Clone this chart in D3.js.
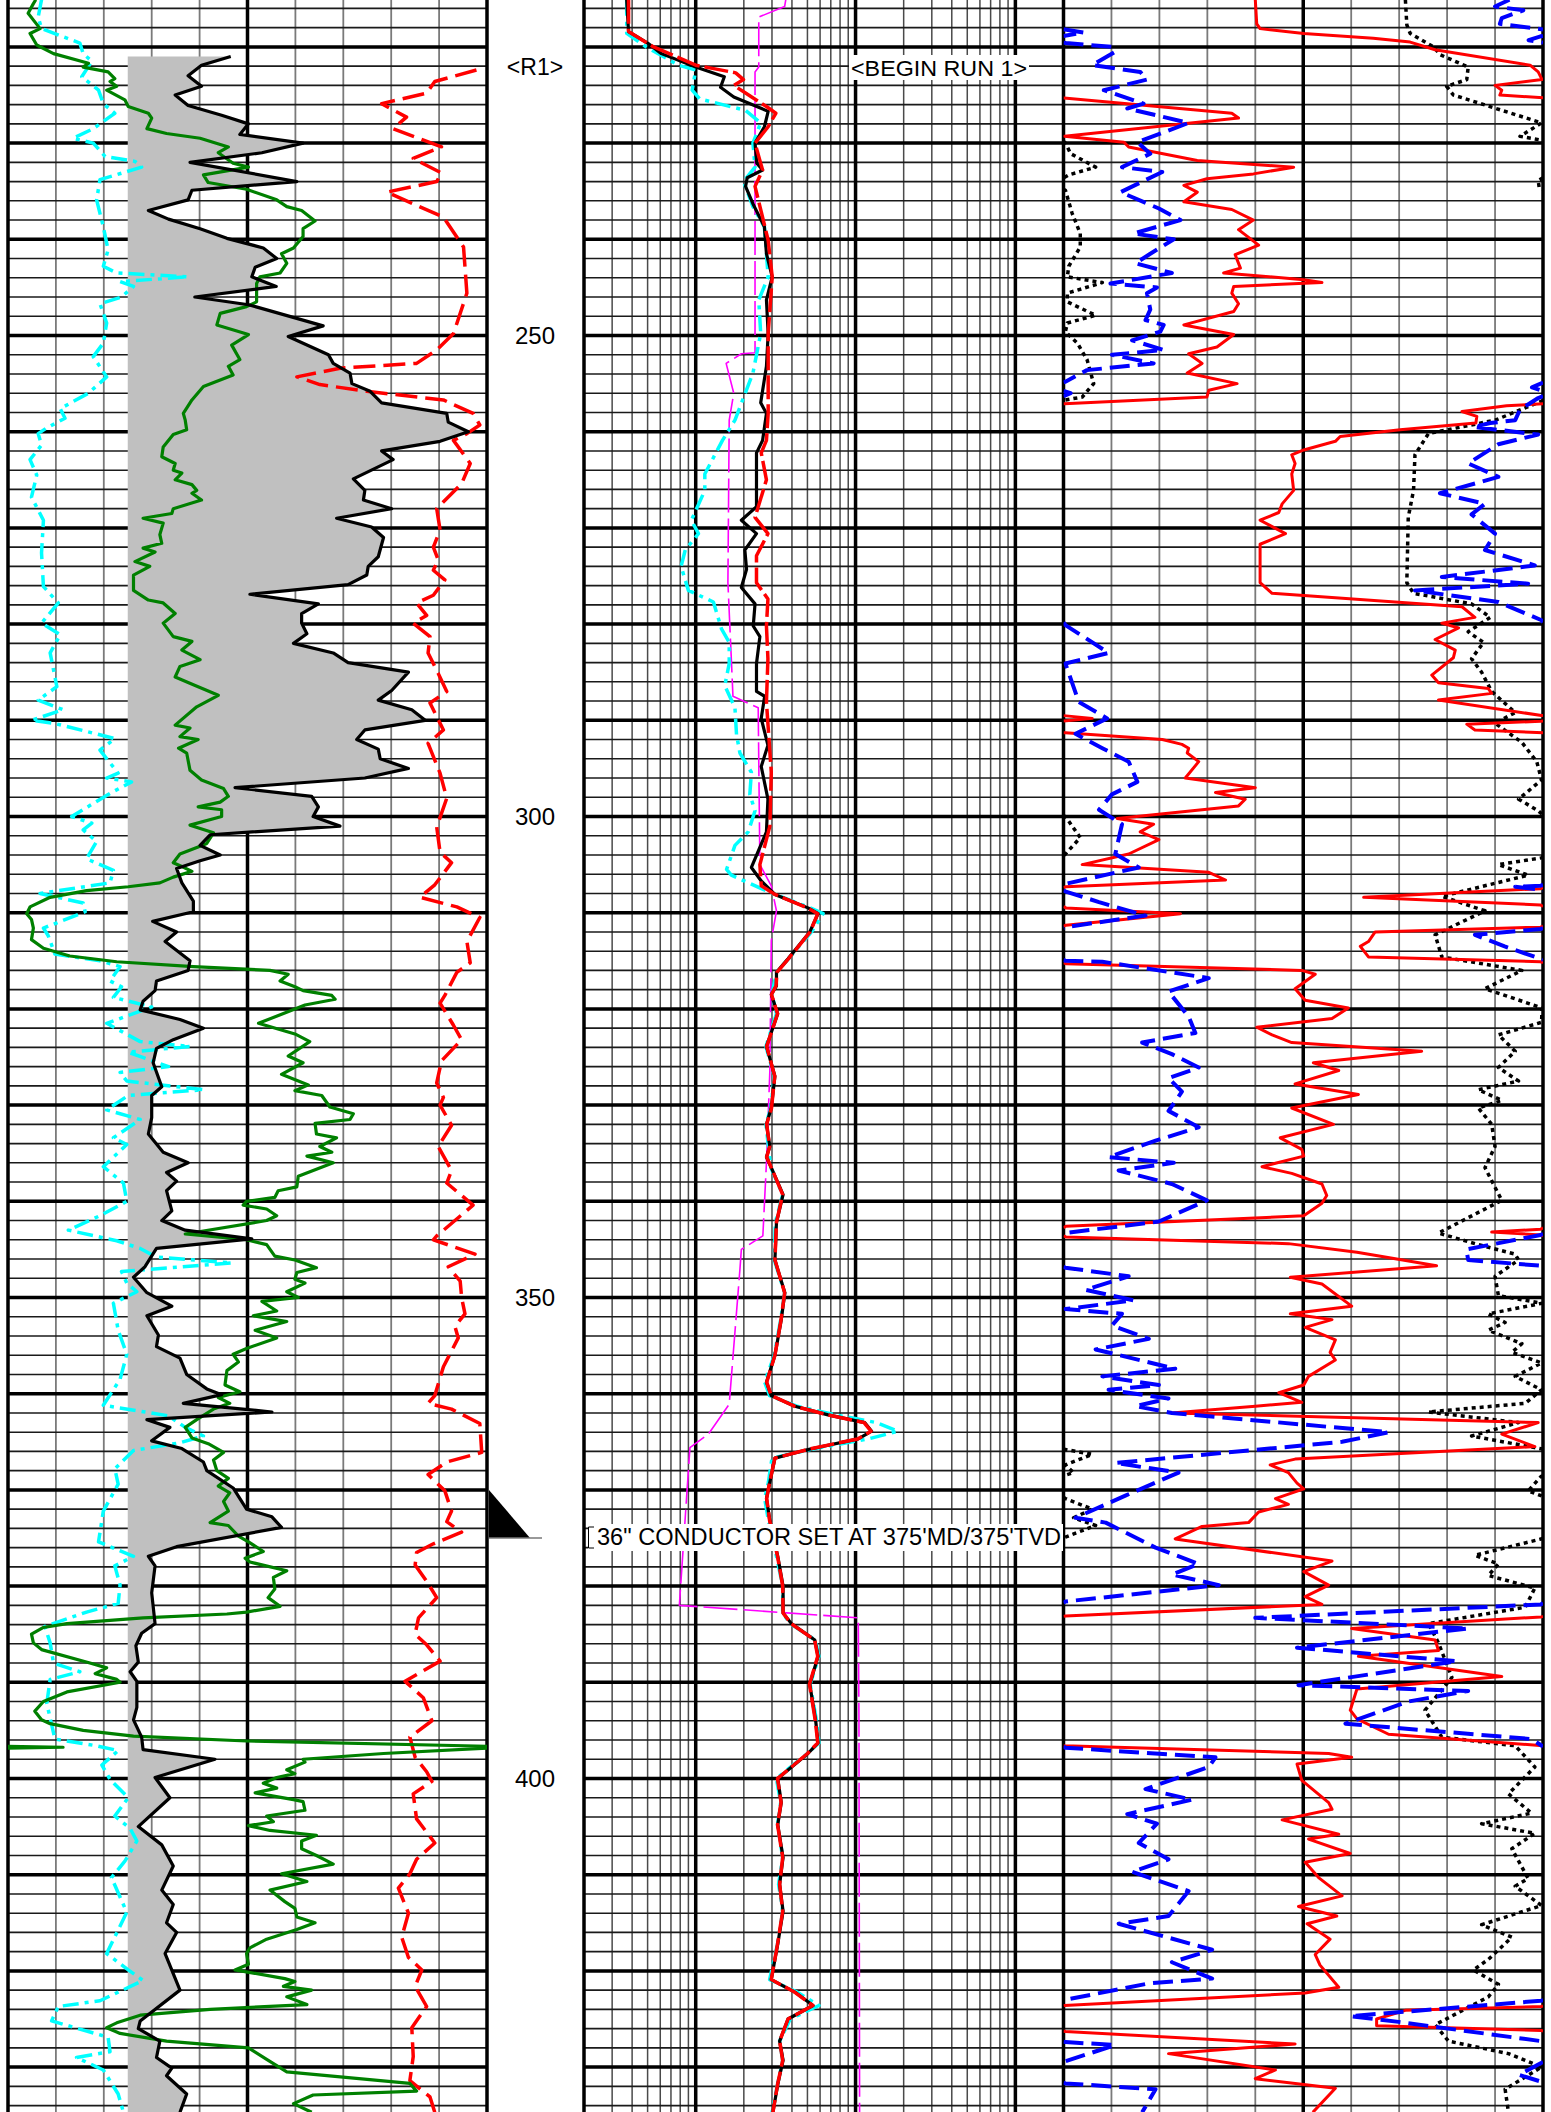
<!DOCTYPE html>
<html>
<head>
<meta charset="utf-8">
<script src="https://cdn.jsdelivr.net/npm/d3@7"></script>
<style>
  html, body { margin: 0; padding: 0; background: #fff; }
  svg { display: block; font-family: "Liberation Sans", Arial, sans-serif; }
</style>
</head>
<body>
<svg id="log" width="1551" height="2112"></svg>
<script>
// ---- depth labels / annotations ----
var depthLabels = [250, 300, 350, 400];

// ---- track 1 (linear 0-100) : [depth, value] ----
var t1Gamma = [[221.0,46.5],[221.9,40.4],[223.0,37.6],[224.1,40.4],[225.0,34.9],[226.1,37.6],[227.1,44.6],[228.0,50.2],[229.1,48.4],[230.0,61.6],[231.0,53.0],[232.0,38.0],[234.0,60.3],[234.9,38.4],[235.9,37.6],[237.0,29.3],[237.9,33.5],[238.9,40.1],[239.9,45.7],[240.9,53.3],[242.0,56.1],[242.9,51.6],[243.9,50.9],[244.9,56.0],[246.0,39.0],[246.8,50.2],[249.0,65.8],[250.1,58.5],[252.0,66.9],[252.9,67.9],[253.9,71.4],[255.0,71.8],[255.8,75.6],[257.0,78.0],[258.1,91.6],[259.0,91.9],[260.0,96.1],[261.0,90.2],[262.0,78.0],[262.9,80.4],[264.9,72.1],[266.1,74.5],[267.1,74.2],[268.0,80.1],[269.0,68.6],[269.9,75.9],[271.0,78.4],[273.0,77.3],[274.0,75.2],[274.9,74.9],[275.9,71.0],[276.9,50.5],[277.9,64.8],[278.9,61.3],[279.9,61.3],[281.0,62.4],[282.0,59.6],[283.0,67.9],[284.0,71.0],[285.0,83.6],[286.9,80.1],[287.9,77.3],[288.9,84.3],[290.0,87.1],[291.0,74.5],[292.0,72.8],[293.0,77.3],[294.0,77.7],[295.0,83.6],[296.0,74.5],[297.0,47.4],[297.9,63.4],[299.0,64.8],[300.0,63.7],[301.0,69.3],[301.9,42.2],[303.0,40.1],[304.0,44.3],[304.6,40.1],[305.4,35.2],[306.9,36.3],[308.8,38.7],[309.9,38.7],[310.9,30.2],[312.0,35.2],[313.0,32.8],[315.0,38.0],[316.0,37.6],[317.1,31.0],[318.1,30.7],[319.2,28.2],[320.1,27.6],[321.1,35.9],[322.0,40.8],[323.2,34.5],[324.1,31.0],[325.6,30.3],[328.1,32.1],[329.0,30.0],[331.3,30.0],[333.0,29.3],[334.9,32.4],[336.0,37.6],[337.0,33.1],[337.9,35.2],[338.9,33.1],[341.0,34.2],[342.0,32.1],[343.0,37.0],[343.9,50.9],[344.9,31.0],[346.8,28.6],[347.9,26.2],[349.5,29.0],[350.9,34.2],[351.9,29.0],[353.9,31.4],[355.1,31.0],[356.3,35.9],[358.0,37.3],[359.5,41.5],[360.1,44.6],[361.0,36.6],[361.9,55.1],[362.7,29.0],[363.5,33.8],[364.9,30.0],[365.7,36.3],[367.1,40.8],[368.0,41.5],[369.8,47.0],[372.0,49.8],[372.8,55.1],[373.9,57.1],[375.9,35.2],[376.9,29.3],[377.9,30.7],[380.7,30.0],[383.9,30.7],[384.9,27.9],[386.2,26.7],[387.9,27.2],[388.9,25.5],[389.9,26.9],[392.6,26.9],[393.9,26.2],[395.7,27.9],[397.0,28.2],[398.0,43.2],[399.9,30.7],[402.0,33.8],[405.0,27.2],[406.9,32.1],[409.1,34.5],[411.6,32.1],[413.1,34.5],[415.0,33.1],[416.0,35.2],[418.2,32.8],[422.0,35.9],[425.2,27.6],[426.0,27.2],[427.3,31.7],[429.0,31.0],[430.1,34.2],[430.9,33.1],[432.8,37.3],[434.7,35.9]];

var t1Green = [[215.1,5.8],[215.5,5.3],[216.5,4.2],[217.4,5.6],[218.1,6.7],[218.6,4.6],[219.8,6.0],[220.7,9.5],[221.7,16.8],[222.1,15.7],[222.6,20.9],[223.3,22.3],[223.6,21.3],[224.1,22.7],[224.5,20.6],[225.5,24.4],[226.2,25.1],[226.9,29.3],[227.4,30.0],[228.5,29.0],[229.0,33.1],[229.5,40.1],[230.4,46.0],[231.0,43.9],[232.1,47.0],[232.5,50.2],[233.3,40.8],[234.1,41.8],[234.8,49.8],[235.9,56.1],[236.6,58.2],[237.0,61.3],[238.1,64.1],[238.9,61.6],[239.7,61.6],[240.9,59.6],[241.5,57.1],[242.5,58.2],[243.5,56.8],[243.9,52.6],[244.6,51.9],[246.5,51.9],[247.0,49.8],[247.7,44.3],[248.9,43.6],[249.9,50.2],[251.0,46.7],[252.5,48.4],[253.2,46.0],[254.1,47.0],[255.3,40.8],[256.7,38.4],[258.1,36.6],[258.8,37.0],[259.8,37.3],[260.3,34.5],[261.6,32.4],[262.6,32.1],[263.3,34.9],[264.0,34.5],[264.3,36.3],[265.0,34.9],[265.5,38.4],[266.1,39.4],[266.4,38.4],[267.1,40.4],[268.0,34.5],[268.5,34.2],[269.0,28.2],[269.5,32.4],[270.7,31.7],[271.6,32.1],[272.1,28.2],[272.5,30.7],[273.5,26.5],[274.0,29.6],[274.9,26.2],[276.5,26.2],[277.5,29.3],[277.8,32.4],[278.9,34.9],[279.9,32.4],[281.3,34.5],[281.8,38.4],[282.7,36.3],[283.7,40.1],[284.4,35.9],[285.5,34.9],[286.3,38.7],[287.4,43.9],[288.6,39.4],[290.5,34.9],[290.8,38.0],[291.7,35.9],[292.0,39.7],[292.9,35.6],[293.4,37.3],[295.2,38.0],[296.2,40.4],[297.1,45.0],[297.9,46.0],[298.5,44.3],[299.0,39.7],[299.3,44.6],[300.0,44.6],[300.9,38.0],[301.7,42.9],[302.8,41.5],[303.1,40.1],[303.9,35.9],[304.8,34.5],[305.2,36.3],[305.7,38.4],[306.3,34.5],[306.9,31.7],[307.3,25.1],[307.7,16.4],[308.4,8.8],[309.4,4.6],[310.1,3.9],[310.7,4.9],[311.6,5.3],[312.8,4.9],[313.7,7.4],[314.5,12.9],[315.1,22.7],[315.6,38.7],[316.0,54.7],[316.4,58.5],[317.1,56.8],[317.7,59.9],[318.1,61.6],[318.6,67.6],[319.0,68.3],[319.6,62.0],[321.5,52.3],[322.6,59.9],[323.4,63.0],[324.9,58.5],[325.6,61.6],[326.8,57.1],[327.9,62.7],[328.5,59.9],[329.0,65.5],[330.2,67.2],[330.9,72.1],[331.5,71.4],[331.9,64.1],[333.0,64.4],[333.4,68.6],[334.3,65.1],[334.9,67.6],[335.3,62.4],[336.0,67.9],[337.4,60.6],[338.5,60.3],[338.9,56.4],[339.6,55.7],[340.0,49.8],[340.4,49.1],[340.8,54.0],[341.5,56.1],[342.0,54.0],[343.4,37.0],[344.0,49.8],[344.5,54.0],[345.7,55.7],[346.1,59.9],[346.9,64.4],[347.4,60.3],[348.1,59.9],[348.5,62.0],[349.4,58.2],[350.0,60.6],[350.4,53.0],[351.4,56.1],[351.9,51.2],[352.5,58.2],[353.4,51.6],[354.2,56.1],[355.3,49.8],[355.9,47.0],[356.7,48.1],[357.6,45.7],[359.1,45.3],[359.8,48.4],[360.4,43.9],[361.0,46.3],[361.6,42.9],[362.7,39.4],[363.5,37.0],[364.6,38.4],[365.2,41.8],[366.1,45.0],[366.9,42.9],[368.0,43.6],[368.8,46.0],[369.6,43.9],[370.3,46.3],[371.2,45.0],[372.2,46.0],[373.4,42.2],[373.7,46.0],[374.8,48.1],[375.4,50.2],[376.4,53.3],[377.1,49.5],[377.5,50.5],[378.4,58.2],[379.1,55.4],[380.3,55.7],[381.2,54.3],[382.1,56.8],[382.7,49.8],[382.9,45.7],[383.3,28.2],[383.9,12.3],[384.3,7.4],[385.0,4.9],[385.9,5.3],[386.6,7.0],[388.0,17.1],[388.5,20.6],[389.1,18.2],[389.7,22.7],[390.0,23.4],[391.0,12.3],[392.0,7.4],[393.0,5.6],[393.9,7.0],[394.3,8.8],[395.0,15.7],[395.6,26.2],[396.1,49.8],[396.65,100.0],[396.75,111.5],[396.85,100.0],[397.4,78.4],[398.0,61.6],[398.3,62.0],[399.1,58.2],[399.5,59.9],[399.9,56.1],[400.5,53.3],[401.0,56.1],[401.5,51.6],[402.2,59.6],[402.4,61.6],[403.3,62.0],[403.9,54.0],[404.5,55.4],[404.9,50.2],[405.4,54.7],[405.9,64.4],[406.5,61.3],[407.3,61.3],[408.0,64.4],[408.9,67.9],[409.9,57.1],[410.7,62.4],[411.6,54.7],[412.8,57.8],[413.5,59.9],[414.4,60.3],[415.0,64.1],[415.7,60.3],[416.7,54.0],[417.6,50.5],[418.2,49.8],[419.3,50.2],[419.9,47.4],[420.8,57.8],[421.1,59.9],[421.6,57.5],[422.0,63.4],[422.7,58.2],[423.5,62.4],[424.0,42.2],[424.6,27.6],[425.4,22.7],[425.9,20.6],[426.5,23.4],[427.3,33.1],[428.0,50.2],[429.2,54.0],[430.5,58.2],[431.7,83.9],[432.5,85.3],[432.9,63.7],[433.8,59.6],[434.7,63.4]];

var t1Cyan = [[215.1,7.0],[216.9,6.3],[218.1,7.0],[219.6,15.0],[220.7,15.7],[221.5,17.5],[223.1,15.4],[224.5,18.9],[225.9,19.9],[226.9,22.3],[228.5,17.8],[229.5,13.6],[230.0,17.8],[231.4,20.3],[231.9,26.5],[232.5,27.9],[233.8,19.2],[235.9,18.5],[238.7,19.9],[241.1,20.9],[242.8,19.9],[243.5,22.7],[243.9,37.6],[244.4,23.4],[244.9,26.2],[246.0,23.7],[246.7,19.2],[248.7,20.6],[250.8,19.9],[252.2,17.8],[254.3,20.6],[256.0,16.8],[257.6,10.9],[258.6,11.9],[259.6,8.1],[260.2,6.3],[261.4,7.0],[262.9,4.6],[264.5,6.0],[266.8,4.9],[269.2,7.4],[272.6,7.0],[276.1,7.4],[277.8,10.5],[279.9,7.0],[281.1,10.9],[283.0,8.8],[286.5,10.2],[287.9,6.3],[288.9,11.5],[290.0,4.9],[290.3,9.5],[291.9,22.3],[293.1,19.2],[295.5,23.0],[296.0,20.6],[296.4,25.8],[297.6,21.3],[300.0,13.3],[300.7,17.5],[301.4,15.7],[302.6,18.5],[304.4,16.4],[305.6,22.0],[306.9,21.3],[308.0,6.7],[309.0,15.7],[309.9,16.1],[311.6,7.4],[312.4,8.4],[314.3,9.8],[315.0,19.2],[315.6,23.4],[317.1,21.3],[317.7,23.7],[318.8,22.0],[319.8,30.0],[321.5,20.6],[323.4,27.6],[323.9,38.0],[324.5,25.1],[326.0,33.5],[326.6,23.4],[327.5,24.8],[328.4,40.8],[329.0,25.1],[330.5,20.6],[331.5,27.6],[333.4,22.0],[334.1,24.8],[336.4,19.9],[338.1,24.1],[340.0,24.8],[341.5,19.2],[343.0,12.6],[344.1,22.7],[344.9,27.6],[345.8,31.0],[346.4,46.7],[347.3,23.7],[348.5,24.8],[349.4,26.9],[350.6,22.0],[353.4,23.0],[355.9,24.8],[358.5,23.4],[361.2,19.9],[362.3,33.5],[363.5,37.0],[364.4,40.8],[365.1,35.9],[365.9,26.2],[367.8,22.3],[369.4,23.0],[372.2,19.9],[375.4,18.9],[376.9,26.2],[377.9,22.3],[379.9,23.4],[381.8,23.0],[382.7,16.4],[384.2,7.7],[385.9,8.8],[388.0,9.5],[388.9,15.0],[389.7,8.8],[392.2,8.1],[395.9,9.8],[396.6,18.5],[397.1,23.0],[398.6,19.6],[400.1,21.3],[402.0,25.1],[403.9,22.3],[405.2,25.5],[406.5,26.9],[408.6,24.4],[410.3,21.6],[413.9,24.8],[418.2,20.6],[419.9,25.1],[421.0,28.2],[423.1,19.2],[423.7,10.5],[425.2,9.1],[426.9,20.9],[428.4,21.3],[429.0,14.3],[430.3,19.9],[432.8,23.0],[434.7,24.1]];

var t1Red = [[222.4,97.8],[223.6,89.1],[224.8,87.4],[225.9,78.0],[227.3,83.2],[228.5,80.4],[230.4,90.5],[231.6,84.6],[233.1,90.5],[234.0,89.5],[235.1,79.1],[237.7,90.9],[240.8,95.1],[245.6,95.8],[249.8,93.0],[251.5,89.5],[252.9,85.3],[253.4,69.3],[254.3,60.3],[255.1,65.1],[255.8,74.9],[256.7,90.9],[258.1,97.1],[259.3,98.5],[260.2,95.8],[260.9,93.0],[263.3,96.5],[265.4,94.7],[268.0,89.5],[270.2,90.2],[272.0,88.8],[273.3,89.8],[274.4,88.8],[275.4,91.2],[277.0,88.8],[277.8,85.3],[279.1,87.4],[279.9,84.6],[281.3,88.1],[283.0,87.7],[285.1,89.8],[287.0,91.6],[288.2,88.1],[291.0,90.9],[292.4,87.7],[295.5,90.2],[298.1,91.6],[301.1,89.5],[303.7,90.2],[304.8,92.6],[307.1,89.1],[308.4,86.0],[309.4,93.7],[310.5,98.5],[313.0,95.8],[315.2,96.5],[316.2,93.7],[318.6,91.2],[319.4,90.2],[321.7,93.0],[323.2,94.7],[325.4,90.5],[327.7,89.5],[329.2,90.9],[330.0,90.2],[332.1,92.6],[334.3,89.8],[336.8,92.6],[338.1,91.6],[340.4,97.1],[343.6,89.5],[344.0,88.8],[345.5,97.5],[346.8,91.9],[348.3,94.4],[350.0,94.7],[351.7,95.4],[353.0,93.3],[354.2,94.0],[357.2,90.9],[360.2,89.1],[361.0,87.7],[361.6,92.6],[363.1,98.5],[366.1,98.9],[367.1,91.6],[368.4,87.7],[370.1,91.2],[372.2,92.6],[373.3,91.6],[374.4,94.7],[375.6,88.8],[376.5,85.3],[377.8,85.0],[379.5,87.4],[381.2,89.5],[383.3,85.7],[385.0,85.0],[386.1,87.4],[387.8,90.2],[389.9,82.9],[391.6,86.7],[394.0,88.5],[395.7,83.9],[397.8,85.0],[399.3,87.4],[400.3,88.5],[401.6,84.6],[404.2,85.3],[406.7,89.1],[408.4,85.3],[409.9,83.9],[411.4,81.5],[414.0,83.6],[416.5,82.2],[418.6,83.6],[419.9,86.4],[421.6,85.0],[423.7,87.4],[425.9,84.3],[428.9,84.6],[431.4,83.9],[433.1,88.1],[434.7,89.1]];

// ---- track 2 (log 0.2-200 ohm.m) ----
var t2Black = [[215.1,0.37],[218.4,0.38],[219.6,0.50],[220.7,0.61],[222.1,1.0],[223.1,1.51],[224.2,1.43],[225.2,1.73],[226.7,2.84],[228.3,2.69],[230.0,2.35],[232.1,2.41],[232.8,2.62],[233.6,2.10],[234.5,2.05],[236.3,2.28],[238.7,2.69],[241.5,2.77],[243.9,3.01],[246.3,2.77],[249.8,2.84],[253.2,2.77],[257.0,2.55],[258.1,2.77],[260.9,2.62],[262.2,2.40],[267.8,2.40],[269.2,1.93],[270.6,2.40],[272.3,2.03],[274.3,2.08],[276.2,1.93],[277.9,2.35],[280.2,2.29],[281.3,2.52],[284.1,2.40],[287.0,2.40],[287.5,2.70],[289.8,2.57],[292.6,2.83],[294.8,2.57],[298.2,2.83],[301.6,2.77],[305.3,2.23],[306.7,2.57],[308.1,3.13],[309.5,5.04],[310.1,5.83],[312.0,5.17],[314.8,3.78],[316.2,3.20],[317.6,3.20],[318.5,2.97],[320.5,3.26],[323.9,2.77],[327.0,3.13],[330.3,2.97],[332.0,2.77],[334.3,2.91],[335.4,2.77],[336.5,2.97],[339.3,3.52],[342.2,3.20],[346.1,3.13],[349.5,3.61],[352.3,3.43],[356.0,3.13],[358.8,2.77],[360.2,2.97],[361.3,4.17],[362.2,6.73],[363.0,11.4],[363.9,12.6],[364.7,10.4],[365.8,5.04],[366.7,3.13],[369.2,2.91],[370.9,2.77],[373.2,2.91],[376.9,3.26],[380.0,3.52],[382.8,3.52],[383.9,3.97],[385.6,5.56],[387.3,5.83],[390.2,5.17],[394.0,5.63],[396.3,5.83],[397.4,5.04],[400.0,3.26],[402.5,3.43],[404.8,3.26],[408.2,3.52],[411.0,3.35],[413.8,3.52],[417.2,3.26],[420.9,2.97],[422.2,4.17],[423.6,5.42],[425.0,3.78],[427.3,3.35],[429.3,3.52],[431.8,3.26],[434.7,3.04]];

var t2Red = [[215.1,0.38],[218.4,0.38],[220.0,0.545],[221.9,1.0],[222.7,1.78],[223.4,1.99],[224.0,1.73],[224.8,2.05],[226.2,2.77],[226.9,3.17],[228.3,2.84],[230.0,2.35],[232.8,2.62],[234.5,2.35],[240.1,2.84],[243.9,3.01],[249.8,2.84],[258.1,2.84],[260.9,2.77],[262.2,2.57],[265.0,2.77],[268.9,2.35],[270.6,2.83],[272.9,2.40],[275.7,2.40],[277.4,2.83],[280.2,2.77],[283.6,2.83],[288.1,2.77],[295.4,2.97],[301.0,2.91],[305.0,2.52],[307.2,2.57],[308.1,3.13],[309.5,5.0],[310.1,5.8],[312.0,5.2],[314.8,3.8],[316.2,3.22],[317.6,3.18],[318.5,2.98],[320.5,3.25],[323.9,2.78],[327.0,3.12],[330.3,2.98],[332.0,2.78],[334.3,2.9],[335.4,2.78],[336.5,2.97],[339.3,3.5],[342.2,3.2],[346.1,3.13],[349.5,3.6],[352.3,3.42],[356.0,3.13],[358.8,2.78],[360.2,2.97],[361.3,4.15],[362.2,6.7],[363.0,11.3],[363.9,12.5],[364.7,10.3],[365.8,5.0],[366.7,3.13],[369.2,2.9],[370.9,2.78],[373.2,2.9],[376.9,3.25],[380.0,3.5],[382.8,3.52],[383.9,3.95],[385.6,5.55],[387.3,5.8],[390.2,5.15],[394.0,5.6],[396.3,5.8],[397.4,5.0],[400.0,3.25],[402.5,3.42],[404.8,3.25],[408.2,3.5],[411.0,3.35],[413.8,3.5],[417.2,3.25],[420.9,2.97],[422.2,4.15],[423.6,5.4],[425.0,3.78],[427.3,3.35],[429.3,3.5],[431.8,3.25],[434.7,3.04]];

var t2Cyan = [[215.1,0.37],[218.6,0.37],[220.0,0.49],[221.9,0.78],[222.4,1.0],[224.5,0.95],[225.4,1.06],[226.6,2.05],[227.9,2.55],[230.0,2.28],[232.5,2.35],[234.0,1.99],[236.6,2.28],[238.7,2.69],[243.9,2.84],[246.3,2.48],[249.8,2.55],[253.9,2.28],[258.8,1.76],[260.9,1.47],[264.4,1.14],[266.1,1.14],[269.2,0.94],[270.6,1.04],[272.3,0.86],[274.0,0.81],[276.5,0.90],[277.7,1.29],[280.5,1.45],[281.9,1.62],[284.1,1.62],[286.4,1.52],[288.7,1.76],[291.5,1.80],[293.4,1.89],[295.4,2.23],[297.7,2.18],[299.4,2.35],[301.6,2.13],[303.0,1.76],[305.5,1.56],[306.1,1.67],[307.8,2.83],[309.5,5.2],[310.1,6.27],[312.0,5.3],[314.8,3.8],[316.2,3.2],[318.5,3.0],[320.5,3.2],[323.9,2.75],[327.0,3.1],[330.3,2.95],[332.0,2.75],[334.3,2.85],[336.5,2.95],[339.3,3.5],[342.2,3.15],[346.1,3.1],[349.5,3.6],[352.3,3.4],[356.0,3.1],[358.8,2.7],[360.2,2.9],[361.3,4.3],[362.2,7.5],[363.0,13.5],[363.9,18.4],[364.7,12.0],[365.8,5.2],[366.7,3.0],[369.2,2.85],[370.9,2.7],[373.2,2.85],[376.9,3.2],[380.0,3.5],[382.8,3.5],[383.9,3.9],[385.6,5.6],[387.3,5.9],[390.2,5.2],[394.0,5.7],[396.3,5.9],[397.4,5.0],[400.0,3.2],[402.5,3.4],[404.8,3.25],[408.2,3.5],[411.0,3.3],[413.8,3.5],[417.2,3.25],[420.9,2.9],[422.2,4.3],[423.6,5.9],[425.0,3.9],[427.3,3.35],[429.3,3.5],[431.8,3.25],[434.7,3.0]];

var t2Magenta = [[215.1,3.66],[215.8,3.6],[216.9,2.48],[222.1,2.48],[222.6,2.35],[251.8,2.35],[251.9,1.93],[252.9,1.55],[256.0,1.73],[258.8,1.62],[275.7,1.59],[283.6,1.67],[287.5,1.71],[288.7,2.46],[305.0,2.52],[307.2,2.97],[309.8,3.20],[312.9,2.97],[326.4,2.91],[336.0,2.77],[343.6,2.63],[345.0,1.93],[347.1,1.89],[361.1,1.62],[364.2,1.20],[365.6,0.92],[382.0,0.79],[383.3,10.4],[393.5,10.5],[434.7,10.6]];

// ---- track 3 (linear 0-100, wrapped) ----
var t3Red = [[215.1,40.0],[217.6,40.3],[218.1,41.0],[218.6,50.1],[219.1,64.6],[219.5,72.3],[220.3,77.5],[221.9,97.3],[222.6,99.0],[223.4,99.8],[224.0,90.0],[224.5,91.4],[225.0,91.0],[225.3,100.1],[226.9,135.1],[227.4,136.5],[229.3,100.2],[229.9,112.6],[230.4,113.6],[231.8,127.9],[232.5,148.0],[233.2,139.6],[233.7,129.9],[234.4,125.1],[235.1,127.9],[236.1,125.1],[236.9,135.1],[238.0,139.6],[239.0,136.5],[240.6,140.7],[241.6,135.8],[243.0,136.9],[243.5,133.4],[244.2,150.1],[244.5,153.9],[244.9,135.5],[245.6,135.1],[246.7,136.5],[247.5,135.5],[248.9,125.1],[249.9,135.5],[251.2,132.0],[251.9,126.1],[252.9,128.9],[253.9,125.8],[255.0,136.2],[255.7,130.3],[256.4,129.9],[257.1,100.2],[257.3,92.4],[257.9,83.1],[258.4,86.2],[259.1,86.0],[259.8,70.2],[260.5,57.7],[261.0,56.7],[261.9,50.1],[262.4,47.6],[263.3,48.3],[264.4,47.6],[266.1,48.0],[267.5,45.6],[268.4,44.9],[269.2,41.0],[270.6,46.3],[271.7,41.0],[275.7,41.0],[276.8,43.5],[278.2,83.1],[279.3,85.8],[279.9,78.9],[280.4,82.4],[281.6,77.5],[282.7,81.7],[283.5,81.3],[285.3,76.8],[286.1,78.2],[286.7,88.6],[287.2,89.3],[287.9,78.2],[289.5,99.7],[289.8,106.0],[290.1,99.5],[290.4,84.1],[291.0,85.8],[291.3,100.4],[292.0,120.6],[292.5,124.7],[292.9,126.1],[293.4,125.8],[294.3,128.2],[296.0,125.4],[297.0,140.0],[297.5,131.7],[298.2,137.9],[298.9,136.5],[300.2,111.2],[300.8,118.8],[301.6,116.0],[302.4,119.9],[303.9,113.6],[305.0,103.9],[305.8,130.3],[306.6,133.8],[307.3,100.5],[307.5,99.5],[308.4,62.6],[309.2,99.5],[309.5,100.5],[310.1,124.4],[311.3,100.5],[311.5,99.5],[312.0,65.0],[313.0,63.6],[313.5,61.9],[314.6,63.6],[315.1,99.5],[315.3,100.5],[316.0,149.7],[316.4,152.5],[317.9,148.3],[319.1,150.4],[319.9,159.4],[321.0,156.0],[321.9,140.3],[322.7,143.5],[323.5,147.6],[324.4,174.7],[325.6,152.1],[326.4,157.4],[327.8,148.3],[328.9,161.5],[330.3,147.6],[332.0,156.3],[333.4,145.2],[334.6,149.7],[335.3,150.1],[336.4,141.4],[337.1,147.6],[338.2,153.9],[339.4,154.9],[340.2,153.9],[341.5,150.1],[342.6,100.5],[342.9,99.5],[343.2,89.3],[343.5,99.5],[343.7,100.5],[344.4,146.9],[345.3,161.2],[346.7,177.8],[347.9,147.3],[348.6,153.9],[350.9,160.1],[351.7,147.3],[352.3,156.0],[353.1,150.4],[354.4,156.7],[355.7,155.6],[356.5,156.7],[358.2,151.1],[359.1,150.1],[359.9,144.9],[360.9,149.7],[361.3,140.0],[362.0,122.6],[363.0,199.0],[364.2,191.4],[365.5,198.3],[366.8,148.3],[367.4,143.1],[368.2,146.9],[369.3,148.7],[369.9,150.1],[370.9,144.2],[371.5,146.9],[372.3,140.7],[373.4,138.6],[373.8,128.9],[375.1,123.3],[377.4,156.0],[378.5,150.1],[379.9,155.3],[381.1,150.4],[381.9,153.9],[383.1,100.4],[383.2,99.6],[384.4,60.1],[385.6,77.5],[386.7,78.2],[387.3,61.5],[389.4,91.4],[390.7,61.2],[392.9,59.8],[393.8,61.2],[395.4,67.8],[396.6,100.2],[397.4,155.3],[397.8,160.1],[398.5,148.7],[400.2,149.7],[402.5,155.3],[403.2,156.0],[404.3,145.6],[405.8,157.4],[406.3,151.1],[407.8,159.8],[408.7,150.4],[410.3,153.2],[412.2,158.1],[413.3,149.0],[414.3,157.0],[415.1,150.8],[416.7,155.6],[418.3,152.5],[419.4,153.5],[421.7,157.4],[422.3,150.4],[423.6,100.2],[423.7,99.6],[424.1,71.3],[425.0,65.3],[425.7,65.3],[426.2,99.6],[426.3,100.4],[427.6,148.3],[428.6,121.9],[430.3,144.2],[431.2,140.0],[432.2,156.7],[434.7,152.0]];

var t3Blue = [[215.1,93.0],[215.8,90.0],[216.2,95.9],[217.0,91.4],[217.6,91.0],[218.2,100.3],[218.5,104.2],[218.9,99.5],[219.3,97.0],[219.6,100.5],[220.0,110.1],[220.5,110.8],[221.9,106.0],[222.6,116.0],[223.4,117.4],[224.5,108.4],[225.9,116.7],[226.4,113.3],[227.9,126.1],[229.9,115.4],[231.1,118.1],[232.5,112.2],[233.0,120.6],[235.1,111.9],[236.8,119.9],[238.0,124.4],[239.4,114.6],[240.0,123.0],[241.5,118.1],[242.5,115.0],[243.5,122.6],[244.6,109.8],[245.0,119.5],[245.6,117.4],[247.3,118.1],[248.4,117.1],[248.9,120.9],[249.6,120.2],[250.5,114.3],[251.5,120.9],[252.0,110.1],[252.9,118.8],[253.6,104.9],[254.8,100.4],[255.4,97.7],[256.0,101.5],[256.5,99.0],[257.7,95.2],[258.8,94.2],[259.1,89.0],[259.5,85.5],[260.3,99.0],[261.3,90.7],[263.3,84.4],[264.7,90.7],[266.4,78.5],[267.5,87.9],[268.6,85.1],[270.6,90.0],[272.3,87.9],[273.9,98.3],[275.1,78.9],[275.8,96.9],[276.5,73.3],[277.7,90.7],[279.6,99.7],[280.1,100.4],[283.0,109.4],[284.1,100.4],[288.1,103.2],[289.8,109.1],[291.4,102.5],[292.9,108.1],[294.3,113.6],[296.4,115.4],[297.7,110.1],[299.3,107.4],[300.8,112.2],[303.9,110.8],[305.3,115.7],[307.0,100.4],[307.2,99.5],[307.3,94.2],[307.6,99.5],[307.8,100.5],[308.9,107.4],[310.3,117.1],[311.5,100.4],[311.7,99.5],[312.3,85.8],[313.5,92.0],[314.8,99.5],[315.0,100.4],[315.1,108.1],[316.8,130.3],[318.2,121.9],[320.8,126.1],[322.5,127.5],[323.5,116.4],[324.7,122.6],[326.1,128.2],[327.2,121.9],[328.6,124.7],[330.6,121.9],[332.3,128.2],[333.7,119.2],[335.4,109.4],[336.0,123.0],[336.8,111.5],[338.2,122.6],[339.9,129.9],[342.1,119.9],[343.3,100.4],[343.5,99.5],[345.0,84.0],[346.1,84.4],[346.7,99.6],[346.9,100.4],[347.8,113.6],[349.2,104.6],[350.3,114.6],[351.2,100.4],[351.7,112.2],[352.9,110.1],[354.3,117.8],[355.4,106.7],[357.4,123.3],[358.2,108.1],[359.1,119.9],[359.6,109.4],[360.5,121.9],[361.3,115.0],[362.0,122.6],[364.0,167.8],[365.0,158.1],[367.2,110.8],[368.2,124.0],[370.6,112.9],[372.9,102.5],[373.4,108.8],[376.0,119.2],[377.7,128.2],[378.8,122.6],[379.9,132.4],[381.6,100.4],[381.9,99.6],[383.3,40.0],[384.4,84.4],[386.4,48.7],[387.8,82.0],[390.3,49.0],[390.9,84.4],[392.0,71.9],[394.3,58.8],[395.9,97.6],[396.8,100.4],[397.8,131.7],[398.8,130.3],[401.1,117.1],[402.2,126.8],[403.7,113.3],[404.7,119.5],[406.7,115.7],[408.4,121.9],[409.7,114.3],[411.7,126.1],[414.3,121.9],[415.1,111.5],[417.8,131.0],[419.1,122.6],[420.8,131.0],[421.3,117.8],[423.0,100.4],[423.1,99.6],[424.7,59.8],[425.3,69.9],[427.3,99.6],[427.4,100.4],[427.7,110.8],[429.4,100.4],[429.6,99.5],[430.8,95.0],[431.5,99.5],[431.7,100.4],[432.3,119.2],[434.7,116.4]];

var t3Dot = [[215.1,71.3],[217.7,71.6],[218.6,72.3],[220.0,77.2],[220.8,78.5],[222.1,84.4],[223.4,84.1],[224.1,79.9],[225.0,81.3],[227.9,99.7],[229.3,95.2],[229.7,99.8],[230.0,100.4],[231.1,101.5],[232.5,106.7],[233.3,101.1],[233.9,99.0],[234.6,99.2],[234.9,100.4],[237.3,101.8],[239.4,103.5],[240.8,103.5],[242.8,101.1],[243.9,100.8],[244.5,108.1],[245.6,100.8],[246.5,100.8],[247.9,106.7],[248.7,100.8],[249.6,100.4],[250.8,102.9],[252.5,104.9],[255.0,106.3],[256.4,103.9],[256.7,100.4],[258.8,90.0],[260.2,76.1],[262.4,73.3],[266.1,73.0],[268.9,71.9],[275.7,71.6],[276.8,73.0],[277.9,85.1],[279.3,89.0],[280.8,84.4],[281.9,87.6],[283.6,85.1],[285.0,87.2],[287.0,89.3],[289.2,94.2],[290.3,90.0],[292.3,95.6],[294.3,98.7],[296.2,99.7],[298.2,94.9],[299.4,99.0],[300.0,100.3],[300.5,101.1],[302.2,103.5],[303.9,100.4],[304.3,99.7],[305.0,90.7],[306.1,96.9],[308.3,78.9],[309.8,87.9],[312.3,77.5],[314.6,78.9],[316.0,95.6],[317.9,87.9],[319.9,99.8],[321.4,99.7],[322.7,90.7],[324.4,94.2],[326.1,90.7],[327.5,94.9],[328.4,86.5],[329.5,91.4],[330.3,86.5],[332.0,89.3],[334.3,90.0],[336.5,87.9],[339.9,91.4],[343.3,78.2],[344.4,85.8],[345.5,94.2],[346.1,94.9],[347.8,90.0],[349.8,90.7],[350.6,99.8],[351.7,88.6],[352.6,92.1],[353.4,88.6],[354.8,95.6],[355.7,93.5],[356.8,99.7],[358.2,94.2],[359.6,99.7],[361.0,96.3],[361.9,76.1],[363.0,94.9],[364.4,85.1],[365.6,98.3],[365.8,100.4],[366.3,106.0],[367.4,100.4],[368.2,102.1],[368.6,99.6],[370.1,96.9],[370.6,99.6],[370.9,100.4],[372.0,106.0],[372.9,102.1],[373.7,106.7],[374.9,100.4],[375.1,99.6],[376.8,85.8],[377.7,90.7],[378.9,88.6],[380.2,98.3],[382.2,96.3],[383.9,76.1],[385.9,78.2],[389.5,81.0],[392.9,75.4],[395.7,78.9],[396.6,94.2],[398.8,98.3],[401.6,92.8],[403.6,97.6],[404.7,87.2],[405.7,98.3],[407.3,93.5],[410.4,96.9],[411.2,94.2],[413.2,99.7],[415.2,87.2],[416.5,93.5],[418.8,88.6],[419.9,85.5],[421.4,90.7],[422.7,88.6],[425.6,77.5],[427.3,80.3],[428.6,92.8],[430.0,99.7],[432.3,92.1],[434.7,92.8]];

// ---- layout ----
var svg = d3.select('#log');
var y = d3.scaleLinear().domain([250, 400]).range([335.5, 1778.5]);
var x1 = d3.scaleLinear().domain([0, 100]).range([8, 487]);
var x2 = d3.scaleLog().domain([0.2, 200]).range([584, 1063.5]);
var x3 = d3.scaleLinear().domain([0, 100]).range([1063.5, 1543]);
var H = 2112;

svg.append('rect').attr('width', 1551).attr('height', H).attr('fill', '#fff');

var defs = svg.append('defs');
[['c1', 8, 487], ['c2', 584, 1063.5], ['c3', 1063.5, 1543]].forEach(function (c) {
    defs.append('clipPath').attr('id', c[0]).append('rect')
        .attr('x', c[1]).attr('y', 0).attr('width', c[2] - c[1]).attr('height', H);
});

var grid = svg.append('g');

function vline(x, thick) {
    grid.append('line').attr('x1', x).attr('x2', x).attr('y1', 0).attr('y2', H)
        .attr('stroke', thick ? '#000' : '#7a7a7a').attr('stroke-width', thick ? 3.5 : 1.8);
}

function hlines(xa, xb) {
    d3.range(216, 435, 2).forEach(function (d) {
        var thick = d % 10 === 0;
        grid.append('line').attr('x1', xa).attr('x2', xb).attr('y1', y(d)).attr('y2', y(d))
            .attr('stroke', thick ? '#000' : '#1a1a1a').attr('stroke-width', thick ? 3.5 : 1.6);
    });
}

// linear tracks: thin verticals first
[x1, x3].forEach(function (sc) {
    d3.range(10, 100, 10).forEach(function (v) { if (v !== 50) vline(sc(v), false); });
});
// log track minor lines
var logMinor = [];
[0.1, 1, 10, 100].forEach(function (dec) {
    d3.range(2, 10).forEach(function (m) {
        var v = +(m * dec).toFixed(3);
        if (v > 0.2 && v < 200) logMinor.push(v);
    });
});
logMinor.forEach(function (v) {
    grid.append('line').attr('x1', x2(v)).attr('x2', x2(v)).attr('y1', 0).attr('y2', H)
        .attr('stroke', '#4a4a4a').attr('stroke-width', 1.5);
});

hlines(8, 487);
hlines(584, 1543);

// thick verticals
vline(x1(50), true); vline(x3(50), true);
[1, 10, 100].forEach(function (v) { vline(x2(v), true); });
[8, 487, 584, 1063.5, 1543].forEach(function (x) { vline(x, true); });

// ---- curve helpers ----
function wrapPieces(data) {
    var pieces = [], cur = [];
    data.forEach(function (p, i) {
        var band = Math.floor(p[1] / 100);
        if (i > 0) {
            var q = data[i - 1];
            var k = Math.floor(q[1] / 100);
            while (k !== band) {
                var up = band > k;
                var edge = up ? (k + 1) * 100 : k * 100;
                var t = (edge - q[1]) / (p[1] - q[1]);
                var d = q[0] + t * (p[0] - q[0]);
                cur.push([d, up ? 100 : 0]);
                pieces.push(cur);
                cur = [[d, up ? 0 : 100]];
                k += up ? 1 : -1;
            }
        }
        cur.push([p[0], p[1] - band * 100]);
    });
    pieces.push(cur);
    return pieces;
}

function drawCurve(g, data, xs, style, wrap) {
    var line = d3.line().x(function (p) { return xs(p[1]); }).y(function (p) { return y(p[0]); });
    var pieces = wrap ? wrapPieces(data) : [data];
    pieces.forEach(function (pc) {
        if (pc.length < 2) return;
        var path = g.append('path').attr('d', line(pc)).attr('fill', 'none')
            .attr('stroke', style.color).attr('stroke-width', style.width)
            .attr('stroke-linejoin', 'round');
        if (style.dash) path.attr('stroke-dasharray', style.dash);
    });
}

// ---- track 1 ----
var g1 = svg.append('g').attr('clip-path', 'url(#c1)');
g1.append('path')
    .attr('d', d3.area().y(function (p) { return y(p[0]); })
        .x0(x1(25)).x1(function (p) { return x1(p[1]); })(t1Gamma))
    .attr('fill', '#c0c0c0');
drawCurve(g1, t1Cyan, x1, { color: '#00ffff', width: 3.5, dash: '16,6,4,6' }, true);
drawCurve(g1, t1Red, x1, { color: '#ff0000', width: 3.5, dash: '22,8' }, true);
drawCurve(g1, t1Green, x1, { color: '#008000', width: 3.2 }, true);
drawCurve(g1, t1Gamma, x1, { color: '#000', width: 3.2 }, true);

// ---- track 2 ----
var g2 = svg.append('g').attr('clip-path', 'url(#c2)');
drawCurve(g2, t2Magenta, x2, { color: '#ff00ff', width: 1.6, dash: '34,6' }, false);
drawCurve(g2, t2Cyan, x2, { color: '#00ffff', width: 3.5, dash: '16,6,4,6' }, false);
drawCurve(g2, t2Black, x2, { color: '#000', width: 3.2 }, false);
drawCurve(g2, t2Red, x2, { color: '#ff0000', width: 3.5, dash: '24,5' }, false);

// ---- track 3 ----
var g3 = svg.append('g').attr('clip-path', 'url(#c3)');
drawCurve(g3, t3Dot, x3, { color: '#000', width: 3.5, dash: '4,4' }, true);
drawCurve(g3, t3Red, x3, { color: '#ff0000', width: 3 }, true);
drawCurve(g3, t3Blue, x3, { color: '#0000ff', width: 4, dash: '20,8' }, true);

// ---- depth track text ----
var txt = svg.append('g').attr('fill', '#000');
depthLabels.forEach(function (d) {
    txt.append('text').attr('x', 535).attr('y', y(d) + 8.5).attr('text-anchor', 'middle')
        .style('font-size', '24px').text(d);
});
txt.append('text').attr('x', 535).attr('y', 75).attr('text-anchor', 'middle')
    .style('font-size', '23px').text('<R1>');

// begin run box
svg.append('rect').attr('x', 849).attr('y', 55).attr('width', 180).attr('height', 25).attr('fill', '#fff');
svg.append('text').attr('x', 851).attr('y', 75.5).style('font-size', '22px')
    .attr('textLength', 176).attr('lengthAdjust', 'spacingAndGlyphs').text('<BEGIN RUN 1>');

// casing shoe marker
svg.append('path').attr('d', 'M489,1490 L489,1538 L530,1538 Z').attr('fill', '#000');
svg.append('line').attr('x1', 489).attr('x2', 542).attr('y1', 1538).attr('y2', 1538)
    .attr('stroke', '#777').attr('stroke-width', 1.5);
svg.append('rect').attr('x', 588).attr('y', 1524).attr('width', 475).attr('height', 27).attr('fill', '#fff');
svg.append('path').attr('d', 'M594,1527 H588.5 V1548 H594').attr('fill', 'none')
    .attr('stroke', '#000').attr('stroke-width', 1);
svg.append('text').attr('x', 597).attr('y', 1545).style('font-size', '23px')
    .attr('textLength', 464).attr('lengthAdjust', 'spacingAndGlyphs')
    .text('36" CONDUCTOR SET AT 375\'MD/375\'TVD');
</script>
</body>
</html>
